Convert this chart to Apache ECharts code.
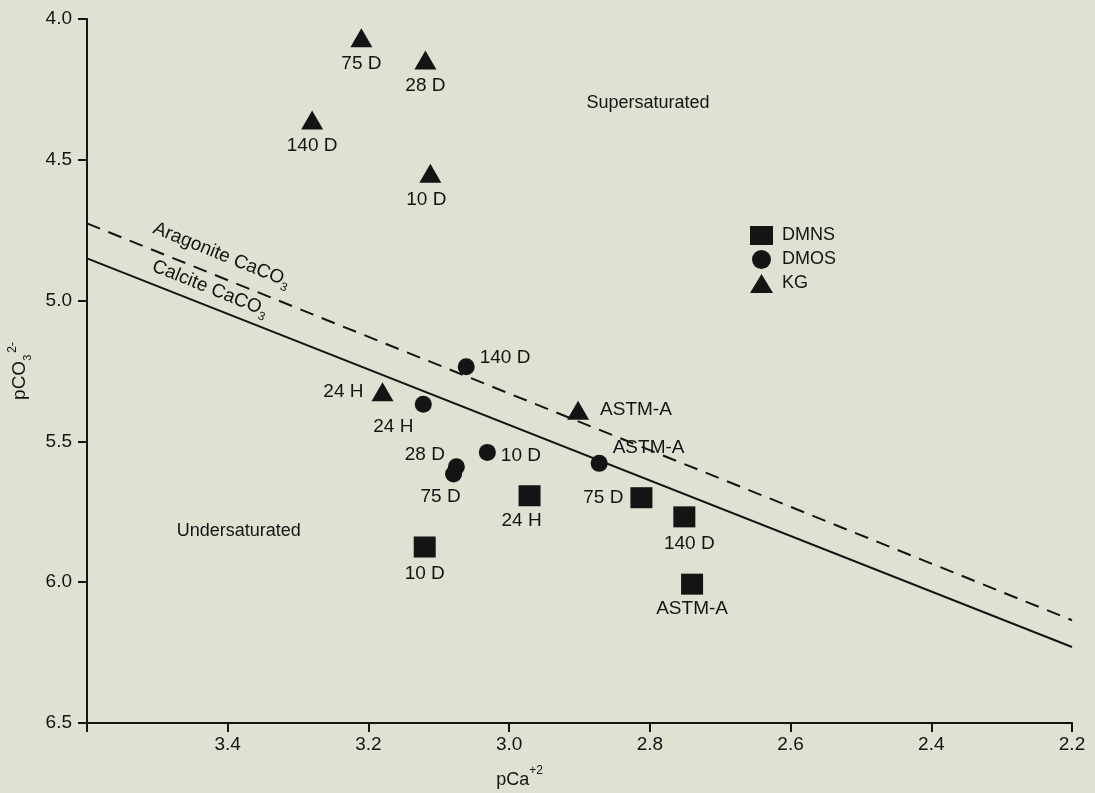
<!DOCTYPE html>
<html><head><meta charset="utf-8">
<script src="https://cdn.jsdelivr.net/npm/echarts@6/dist/echarts.min.js"></script>
<style>html,body{margin:0;padding:0;background:#e0e0d3;} #c{width:1095px;height:793px;}</style>
</head><body><div id="c"></div>
<script>
// ---- data ----
const xTicks = [3.4, 3.2, 3.0, 2.8, 2.6, 2.4, 2.2];
const yTicks = [4.0, 4.5, 5.0, 5.5, 6.0, 6.5];

const dmnsX = [2.971, 2.812, 3.120, 2.751, 2.740];
const dmnsY = [5.693, 5.700, 5.875, 5.768, 6.007];
const dmnsLabels = ['24 H', '75 D', '10 D', '140 D', 'ASTM-A'];

const dmosX = [3.061, 3.122, 3.031, 3.075, 3.079, 2.872];
const dmosY = [5.235, 5.368, 5.539, 5.590, 5.616, 5.578];
const dmosLabels = ['140 D', '24 H', '10 D', '28 D', '75 D', 'ASTM-A'];

const kgX = [3.210, 3.119, 3.280, 3.112, 3.180, 2.902];
const kgY = [4.067, 4.146, 4.359, 4.548, 5.324, 5.389];
const kgLabels = ['75 D', '28 D', '140 D', '10 D', '24 H', 'ASTM-A'];

// equilibrium lines (pCa, pCO3)
const lineX = [3.6, 2.2];
const aragoniteY = [4.726, 6.135];
const calciteY = [4.850, 6.230];

// ---- label placement (style, not data) ----
const dmnsPlace = [['bottom', [-8, 0]], ['left', [-2, 0]], ['bottom', [0, 2]], ['bottom', [5, 2]], ['bottom', [0, 0]]];
const dmosPlace = [['right', [0, -9]], ['bottom', [-30, 0]], ['right', [0, 3]], ['left', [2, -12]], ['bottom', [-13, 0]], ['right', [0, -16]]];
const kgPlace = [['bottom', [0, 2]], ['bottom', [0, 2]], ['bottom', [0, 2]], ['bottom', [-4, 2]], ['left', [-3, 0]], ['right', [6, 0]]];

// annotation anchors (data coords)
const aragoniteAnchor = [3.4086, 4.838];
const calciteAnchor = [3.4252, 4.957];
const superAnchor = [2.89, 4.30];
const underAnchor = [3.296, 5.818];

const FONT = "'Liberation Sans', Arial, Helvetica, sans-serif";
const INK = '#141414';

function mk(name, symbol, size, xs, ys, labels, places) {
  return {
    type: 'scatter', name: name, symbol: symbol, symbolSize: size, z: 5,
    itemStyle: { color: INK, opacity: 1 },
    label: { show: true, color: INK, fontSize: 19, fontFamily: FONT,
      formatter: p => labels[p.dataIndex] },
    data: xs.map((x, i) => ({ value: [x, ys[i]],
      label: { position: places[i][0], offset: places[i][1] } }))
  };
}
function lineSeries(name, ys, type) {
  return { type: 'line', name: name, data: lineX.map((x, i) => [x, ys[i]]),
    symbol: 'none', silent: true, z: 3,
    lineStyle: { color: INK, width: 2, type: type } };
}

const chart = echarts.init(document.getElementById('c'), null, { renderer: 'canvas' });
chart.setOption({
  backgroundColor: '#e0e0d3',
  animation: false,
  textStyle: { fontFamily: FONT },
  grid: { left: 87, right: 23, top: 19, bottom: 70, containLabel: false, outerBoundsMode: 'none' },
  legend: {
    orient: 'vertical', left: 745, top: 221, itemWidth: 23, itemHeight: 19, itemGap: 5,
    textStyle: { fontSize: 18, color: INK, fontFamily: FONT, padding: [0, 0, 0, 4] },
    data: [{ name: 'DMNS', icon: 'rect' }, { name: 'DMOS', icon: 'circle' }, { name: 'KG', icon: 'triangle' }]
  },
  xAxis: {
    type: 'value', inverse: true, min: 2.2, max: 3.6, interval: 0.2,
    splitLine: { show: false },
    axisLine: { onZero: false, lineStyle: { color: INK, width: 2 } },
    axisTick: { length: 9, lineStyle: { color: INK, width: 2 } },
    axisLabel: { color: INK, fontSize: 19, margin: 12, fontFamily: FONT,
      formatter: v => { const t = xTicks.find(t => Math.abs(t - v) < 1e-6); return t === undefined ? '' : t.toFixed(1); } },
    name: '{a|pCa}{s|+2}', nameLocation: 'middle', nameGap: 42,
    nameTextStyle: { padding: [0, 120, 0, 0],
      rich: { a: { fontSize: 18, color: INK, fontFamily: FONT, lineHeight: 24, verticalAlign: 'bottom' },
              s: { fontSize: 12, color: INK, fontFamily: FONT, lineHeight: 24, verticalAlign: 'top' } } }
  },
  yAxis: {
    type: 'value', inverse: true, min: 4.0, max: 6.5, interval: 0.5,
    splitLine: { show: false },
    axisLine: { onZero: false, lineStyle: { color: INK, width: 2 } },
    axisTick: { length: 9, lineStyle: { color: INK, width: 2 } },
    axisLabel: { color: INK, fontSize: 19, margin: 15, fontFamily: FONT,
      formatter: v => { const t = yTicks.find(t => Math.abs(t - v) < 1e-6); return t === undefined ? '' : t.toFixed(1); } },
    name: '{a|pCO}{b|3}{c|2-}', nameLocation: 'middle', nameGap: 54, nameRotate: 90,
    nameTextStyle: {
      rich: { a: { fontSize: 19, color: INK, fontFamily: FONT, lineHeight: 26, verticalAlign: 'middle' },
              b: { fontSize: 11, color: INK, fontFamily: FONT, lineHeight: 26, verticalAlign: 'bottom', padding: [0, 2, 0, 0] },
              c: { fontSize: 12, color: INK, fontFamily: FONT, lineHeight: 26, verticalAlign: 'top' } } }
  },
  series: [
    lineSeries('Aragonite', aragoniteY, [14, 9]),
    lineSeries('Calcite', calciteY, 'solid'),
    mk('DMNS', 'rect', [22, 21], dmnsX, dmnsY, dmnsLabels, dmnsPlace),
    mk('DMOS', 'circle', 17, dmosX, dmosY, dmosLabels, dmosPlace),
    mk('KG', 'triangle', [22, 19], kgX, kgY, kgLabels, kgPlace)
  ]
});

const px = a => chart.convertToPixel({ gridIndex: 0 }, a);
const ang = -Math.atan(281.5 / 703.6 * ((aragoniteY[1] - aragoniteY[0]) / (lineX[0] - lineX[1])));
const richLbl = {
  n: { fontSize: 19, fill: INK, color: INK, fontFamily: FONT, lineHeight: 26, verticalAlign: 'middle' },
  s: { fontSize: 12, fill: INK, color: INK, fontFamily: FONT, lineHeight: 26, verticalAlign: 'bottom' }
};
function rotText(txt, anchor) {
  const p = px(anchor);
  return { type: 'text', x: p[0], y: p[1], rotation: ang, z: 10,
    style: { text: txt, rich: richLbl, fill: INK, font: '19px ' + FONT,
      align: 'center', verticalAlign: 'middle', textAlign: 'center', textVerticalAlign: 'middle' } };
}
function plainText(txt, anchor, align) {
  const p = px(anchor);
  return { type: 'text', x: p[0], y: p[1], z: 10,
    style: { text: txt, fill: INK, font: '18px ' + FONT,
      align: align, verticalAlign: 'middle', textAlign: align, textVerticalAlign: 'middle' } };
}
chart.setOption({
  graphic: [
    rotText('{n|Aragonite CaCO}{s|3}', aragoniteAnchor),
    rotText('{n|Calcite CaCO}{s|3}', calciteAnchor),
    plainText('Supersaturated', superAnchor, 'left'),
    plainText('Undersaturated', underAnchor, 'right')
  ]
});
</script>
</body></html>
